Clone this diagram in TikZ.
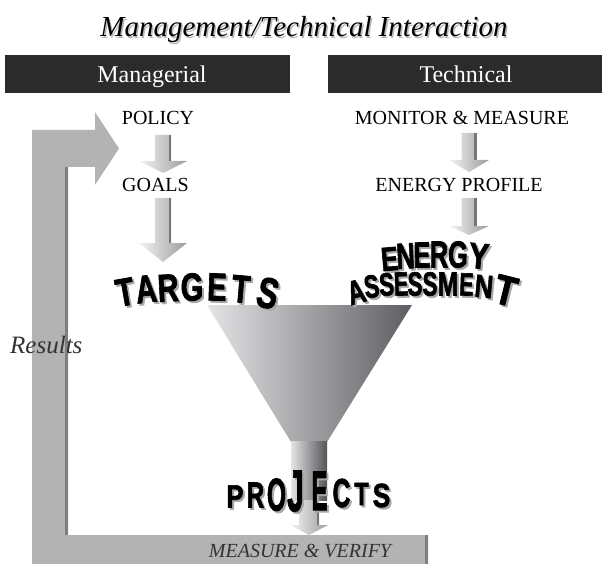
\documentclass[tikz,border=0pt]{standalone}
\usepackage{fontspec}
\setmainfont{Liberation Serif}
\newfontfamily\bigfam{Liberation Sans}[BoldFeatures={FakeBold=2}]
\definecolor{barc}{HTML}{2B2B2B}
\definecolor{loopc}{HTML}{B3B3B3}
\definecolor{loopdark}{HTML}{7F7F7F}
\definecolor{txtgray}{HTML}{333333}
\definecolor{arrlight}{HTML}{F4F4F4}
\definecolor{arrdark}{HTML}{9C9C9C}
\definecolor{arredge}{HTML}{767676}
\definecolor{funl}{HTML}{E4E4E6}
\definecolor{funr}{HTML}{5E5E62}
\definecolor{shadowc}{HTML}{A8A8A8}
\tikzset{
  lbl/.style={font=\fontsize{20}{24}\selectfont, inner sep=0pt, anchor=base},
  titletext/.style={font=\itshape\fontsize{29}{34}\selectfont, inner sep=0pt, anchor=base},
  bartext/.style={font=\fontsize{24}{28}\selectfont, text=white, inner sep=0pt, anchor=base},
  itl/.style={font=\itshape\fontsize{#1}{#1}\selectfont, text=txtgray, inner sep=0pt},
  darkbar/.style={fill=barc, draw=none, inner sep=0pt, anchor=north west},
  bigl/.style={font=\bigfam\bfseries\fontsize{30}{30}\selectfont, inner sep=0pt,
               text height=21.5pt, text depth=0pt, anchor=center},
}
% block down arrow: name, cx, ytop, ybase, ytip, shaft half, head half
\newcommand\dnarrow[7]{%
  \path[left color=arrlight, right color=arrdark]
    ({#2-#6},#3) -- ({#2+#6},#3) -- ({#2+#6},#4) -- ({#2+#7},#4) -- (#2,#5)
    -- ({#2-#7},#4) -- ({#2-#6},#4) -- cycle;
  \fill[arredge] ({#2+#6-2.5},#3) rectangle ({#2+#6},#4);
  \coordinate (#1) at (#2,#5);}
% big warped letter: name, x, y, rotation, height, xscale, letter
\newcommand\bigletter[7]{%
  \node[bigl, text=shadowc, rotate=#4, xscale=#6, yscale={#5/21.5}] at ({#2+2},{#3+2}) {#7};
  \node[bigl, rotate=#4, xscale=#6, yscale={#5/21.5}] (#1) at (#2,#3) {#7};}
\begin{document}
\begin{tikzpicture}[x=1pt,y=-1pt]
\useasboundingbox (0,0) rectangle (602,564);
% title
\node[titletext, text=gray!55] at (305.5,38.5) {Management/Technical Interaction};
\node[titletext] (title) at (304,37) {Management/Technical Interaction};
% header bars
\node[darkbar, minimum width=285pt, minimum height=38pt] (mbar) at (5,55) {};
\node[darkbar, minimum width=274pt, minimum height=38pt] (tbar) at (328,55) {};
\node[bartext] (mtext) at (152,83) {Managerial};
\node[bartext] (ttext) at (466,83) {Technical};
% feedback loop
\fill[loopc] (32,564) -- (32,130) -- (95,130) -- (95,112) -- (119,148.5) -- (95,185)
  -- (95,167) -- (68,167) -- (68,535) -- (428,535) -- (428,564) -- cycle;
\fill[loopdark] (65,167) rectangle (68,535);
\fill[loopdark] (425,535) rectangle (428,564);
% labels
\node[lbl] (policy) at (158,124.5) {POLICY};
\node[lbl] (goals) at (155.5,191.5) {GOALS};
\node[lbl] (monitor) at (462,124.5) {MONITOR \& MEASURE};
\node[lbl] (profile) at (459,191.5) {ENERGY PROFILE};
% small arrows
\dnarrow{a1}{163}{135}{161}{173}{8}{24}
\dnarrow{a2}{163}{198}{243}{262}{8}{24}
\dnarrow{a3}{469}{133}{160}{172}{7.5}{20}
\dnarrow{a4}{469}{198}{226}{235}{7.5}{20}
% funnel
\path[left color=funl, right color=funr] (207,305) -- (412,305) -- (327,442) -- (291,442) -- cycle;
\path[left color=funl, right color=funr!90!black] (291,441.5) rectangle (327,500);
\dnarrow{a5}{309}{500}{525}{535}{10}{19}
% TARGETS
\bigletter{t1}{125}{291.5}{10}{28}{1.0}{T}
\bigletter{t2}{146}{288.5}{6}{28}{0.97}{A}
\bigletter{t3}{168}{287.5}{3}{28}{0.97}{R}
\bigletter{t4}{192}{286.5}{0}{28}{0.97}{G}
\bigletter{t5}{217}{286.5}{-2}{28}{0.97}{E}
\bigletter{t6}{241}{288.5}{-5}{28}{1.0}{T}
\bigletter{t7}{268}{292.5}{-13}{31}{1.05}{S}
% ENERGY
\bigletter{e1}{389.5}{258.5}{5}{24}{0.85}{E}
\bigletter{e2}{405.5}{255.5}{3}{26}{0.85}{N}
\bigletter{e3}{422}{254.5}{1}{26}{0.85}{E}
\bigletter{e4}{439}{254}{0}{27}{0.85}{R}
\bigletter{e5}{458}{254}{-2}{27}{0.85}{G}
\bigletter{e6}{479}{255.5}{-5}{26}{1.0}{Y}
% ASSESSMENT
\bigletter{s1}{356}{291.5}{15}{24}{0.8}{A}
\bigletter{s2}{371.5}{286}{8}{23}{0.75}{S}
\bigletter{s3}{386.5}{284}{4}{23}{0.75}{S}
\bigletter{s4}{401}{283.5}{2}{24}{0.72}{E}
\bigletter{s5}{415}{283.5}{0}{24}{0.75}{S}
\bigletter{s6}{430}{283.5}{0}{24}{0.75}{S}
\bigletter{s7}{448}{283.5}{0}{24}{0.82}{M}
\bigletter{s8}{466.5}{284}{-2}{23}{0.72}{E}
\bigletter{s9}{484}{286}{-5}{23}{0.85}{N}
\bigletter{s10}{506}{290}{-14}{30}{1.2}{T}
% PROJECTS
\bigletter{p1}{235}{496}{0}{23}{0.85}{P}
\bigletter{p2}{255.5}{494.5}{0}{26}{0.8}{R}
\bigletter{p3}{276.5}{494}{0}{33}{0.82}{O}
\bigletter{p4}{295.5}{490}{0}{42}{1.0}{J}
\bigletter{p5}{319.5}{490}{0}{40}{0.8}{E}
\bigletter{p6}{341.5}{492.5}{0}{29}{0.82}{C}
\bigletter{p7}{361.5}{493.5}{0}{23}{0.78}{T}
\bigletter{p8}{381.5}{495}{0}{24}{0.88}{S}
% italic labels
\node[itl=25, anchor=base west] (results) at (10,353) {Results};
\node[itl=20, anchor=base] (mv) at (300,557) {MEASURE \& VERIFY};
\end{tikzpicture}
\end{document}
